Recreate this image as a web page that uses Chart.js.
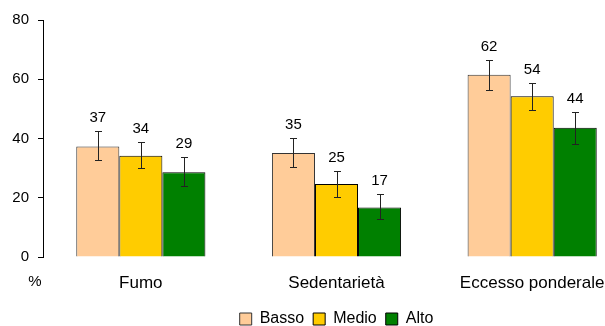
<!DOCTYPE html>
<html>
<head>
<meta charset="utf-8">
<script src="https://cdn.jsdelivr.net/npm/chart.js@4"></script>
<style>
    body { margin: 0; overflow: hidden; background: #fff; }
    #wrap { width: 672px; height: 326px; }
</style>
</head>
<body>
<div id="wrap"><canvas id="riskChart" width="672" height="326"></canvas></div>
<script>
const categories = ['Fumo', 'Sedentarietà', 'Eccesso ponderale'];
const yTicks = [0, 20, 40, 60, 80];

const basso = [37.3, 35.1, 61.5];
const medio = [34.2, 24.6, 54.3];
const alto = [28.6, 16.7, 43.6];

// confidence intervals (low / high)
const bassoLow = [32.9, 30.3, 56.5];
const bassoHigh = [42.4, 40.2, 66.5];
const medioLow = [30.1, 20.4, 49.5];
const medioHigh = [38.8, 28.9, 58.9];
const altoLow = [24.1, 12.8, 38.2];
const altoHigh = [33.8, 21.1, 48.9];

const FAMILY = 'Arial, "Liberation Sans", sans-serif';

// error bars + value labels
const errorBars = {
    id: 'errorBars',
    afterLayout(chart) {
        // center the legend under the plot area
        chart.legend.left = chart.chartArea.left;
        chart.legend.right = chart.chartArea.right;
    },
    afterDatasetsDraw(chart) {
        const ctx = chart.ctx;
        const y = chart.scales.y;
        chart.data.datasets.forEach((ds, i) => {
            const meta = chart.getDatasetMeta(i);
            meta.data.forEach((bar, j) => {
                const cx = Math.round(bar.x) + 0.5;
                const yl = Math.round(y.getPixelForValue(ds.low[j])) + 0.5;
                const yh = Math.round(y.getPixelForValue(ds.high[j])) + 0.5;
                ctx.save();
                ctx.strokeStyle = '#222';
                ctx.lineWidth = 1;
                ctx.beginPath();
                ctx.moveTo(cx, yh);
                ctx.lineTo(cx, yl);
                ctx.moveTo(cx - 3.5, yh);
                ctx.lineTo(cx + 3.5, yh);
                ctx.moveTo(cx - 3.5, yl);
                ctx.lineTo(cx + 3.5, yl);
                ctx.stroke();

                ctx.fillStyle = '#000';
                ctx.font = '15px ' + FAMILY;
                ctx.textAlign = 'center';
                ctx.textBaseline = 'alphabetic';
                ctx.fillText(Math.round(ds.data[j]), bar.x, yh - 10);
                ctx.restore();
            });
        });
        // "%" under the y axis
        ctx.save();
        ctx.fillStyle = '#000';
        ctx.font = '15px ' + FAMILY;
        ctx.textAlign = 'center';
        ctx.textBaseline = 'middle';
        ctx.fillText('%', 35, 282);
        ctx.restore();
    }
};

new Chart(document.getElementById('riskChart'), {
    type: 'bar',
    data: {
        labels: categories,
        datasets: [{
            label: 'Basso',
            data: basso,
            low: bassoLow,
            high: bassoHigh,
            backgroundColor: '#FFCC99',
            borderColor: '#333',
            borderWidth: 1
        }, {
            label: 'Medio',
            data: medio,
            low: medioLow,
            high: medioHigh,
            backgroundColor: '#FFCC00',
            borderColor: '#000',
            borderWidth: 1
        }, {
            label: 'Alto',
            data: alto,
            low: altoLow,
            high: altoHigh,
            backgroundColor: '#008000',
            borderColor: '#000',
            borderWidth: 1
        }]
    },
    options: {
        responsive: false,
        animation: false,
        barPercentage: 1,
        categoryPercentage: 0.66,
        layout: { padding: { top: 20, right: 42, left: 0, bottom: -11 } },
        plugins: {
            tooltip: { enabled: false },
            legend: {
                position: 'bottom',
                labels: {
                    color: '#000',
                    font: { family: FAMILY, size: 16 },
                    boxWidth: 12,
                    boxHeight: 12,
                    padding: 9
                }
            }
        },
        scales: {
            x: {
                afterFit(scale) { scale.height = 45; },
                grid: { display: false },
                border: { display: false },
                ticks: { color: '#000', font: { family: FAMILY, size: 17 }, padding: 8 }
            },
            y: {
                min: 0,
                max: 80,
                afterFit(scale) { scale.width = 43; },
                afterBuildTicks(scale) { scale.ticks = yTicks.map(v => ({ value: v })); },
                grid: { drawOnChartArea: false, drawTicks: true, tickLength: 5, color: '#000' },
                border: { display: true, color: '#000' },
                ticks: { color: '#000', font: { family: FAMILY, size: 15 }, padding: 9 }
            }
        }
    },
    plugins: [errorBars]
});
</script>
</body>
</html>
